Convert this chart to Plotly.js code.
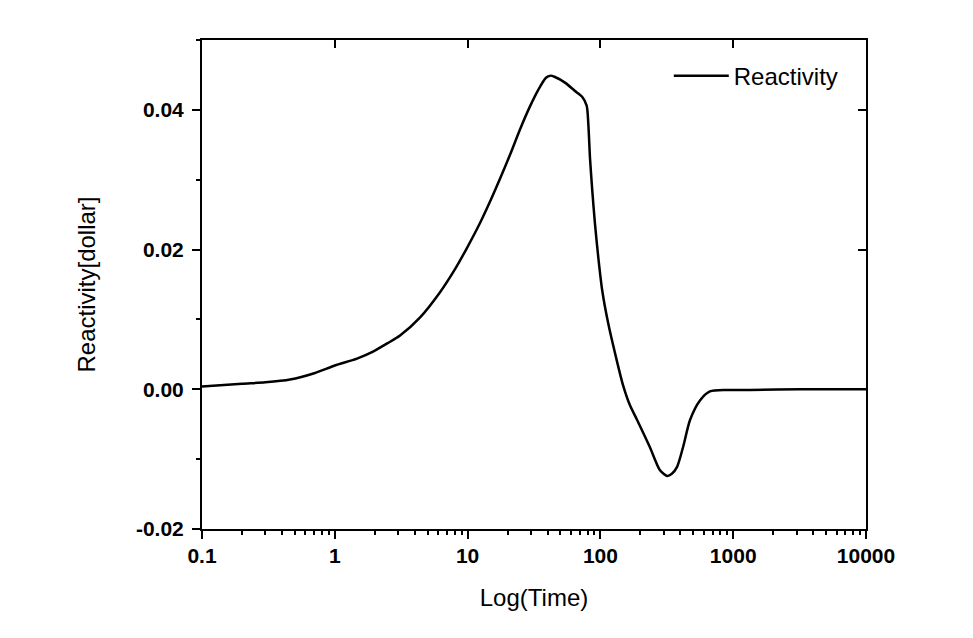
<!DOCTYPE html>
<html>
<head>
<meta charset="utf-8">
<script src="https://cdn.plot.ly/plotly-3.0.1.min.js"></script>
<style>html,body{margin:0;padding:0;background:#fff;}#chart{width:973px;height:638px;}</style>
</head>
<body>
<div id="chart"></div>
<script>
// Time values (log-scaled x axis)
const timeValues = [0.1, 0.2, 0.3, 0.46, 0.7, 1, 1.47, 1.94, 2.5, 3.1, 4.39, 6.2, 8.04, 10, 12.4, 14.7, 17.5, 20.9, 24.8, 29.5, 33.9, 38.9, 42, 45.5, 54.1, 64.4, 72.6, 78.8, 81.1, 83.5, 86.9, 91.0, 96.4, 103.3, 114.6, 131, 148, 167, 189, 236, 281, 318, 345, 378, 419, 473, 562, 668, 898, 1339, 3186, 10000];
// Reactivity in dollars
const reactivityValues = [0.0004, 0.0008, 0.0010, 0.0014, 0.0023, 0.0034, 0.0044, 0.0054, 0.0066, 0.0077, 0.0103, 0.0139, 0.0172, 0.0204, 0.0238, 0.0268, 0.0301, 0.0336, 0.0372, 0.0405, 0.0428, 0.0446, 0.0449, 0.0447, 0.0439, 0.0427, 0.0419, 0.0406, 0.0380, 0.0331, 0.0284, 0.0237, 0.0189, 0.0141, 0.0094, 0.0046, 0.0006, -0.0023, -0.0044, -0.0083, -0.0116, -0.0124, -0.0121, -0.0111, -0.0083, -0.0044, -0.0016, -0.0003, -0.0001, -0.0001, 0.0, 0.0];
const seriesName = 'Reactivity';
const yTickVals = [-0.02, 0.0, 0.02, 0.04];
const yTickText = ['-0.02', '0.00', '0.02', '0.04'];
const xTickVals = [0.1, 1, 10, 100, 1000, 10000];
const xTickText = ['0.1', '1', '10', '100', '1000', '10000'];
const yMirrorText = ['', '', '', ''];
const xMirrorText = ['', '', '', '', '', ''];

const tickFont = {family: 'Liberation Sans, Arial, sans-serif', size: 21, color: '#000', weight: 'bold'};
const titleFont = {family: 'Liberation Sans, Arial, sans-serif', size: 24, color: '#000'};

const trace = {
  x: timeValues, y: reactivityValues, type: 'scatter', mode: 'lines',
  name: seriesName, line: {color: '#000', width: 2.5, shape: 'spline', smoothing: 0.7}, xaxis: 'x', yaxis: 'y'
};
// same data on the mirrored frame axes so their inside ticks get drawn (invisible lines)
const frameTraceTop = {
  x: timeValues, y: reactivityValues, type: 'scatter', mode: 'lines',
  line: {color: 'rgba(0,0,0,0)', width: 1}, showlegend: false, hoverinfo: 'skip',
  xaxis: 'x2', yaxis: 'y'
};
const frameTraceRight = {
  x: timeValues, y: reactivityValues, type: 'scatter', mode: 'lines',
  line: {color: 'rgba(0,0,0,0)', width: 1}, showlegend: false, hoverinfo: 'skip',
  xaxis: 'x', yaxis: 'y2'
};

const layout = {
  width: 973, height: 638,
  paper_bgcolor: '#fff', plot_bgcolor: '#fff',
  margin: {l: 202, r: 107, t: 40, b: 109},
  showlegend: true,
  legend: {x: 0.703, y: 0.972, xanchor: 'left', yanchor: 'top', bgcolor: 'rgba(0,0,0,0)',
           font: titleFont, borderwidth: 0, itemwidth: 55},
  xaxis: {
    type: 'log', range: [-1, 4], tickmode: 'array', tickvals: xTickVals, ticktext: xTickText,
    ticks: 'outside', ticklen: 8, tickwidth: 2, tickcolor: '#000',
    minor: {dtick: 'D1', ticks: 'outside', ticklen: 4, tickwidth: 2, tickcolor: '#000', showgrid: false},
    showline: true, linewidth: 2, linecolor: '#000', mirror: true,
    showgrid: false, zeroline: false, tickfont: tickFont, ticklabelstandoff: -1,
    title: {text: 'Log(Time)', font: titleFont, standoff: 23}
  },
  yaxis: {
    range: [-0.02, 0.05], tickmode: 'array', tickvals: yTickVals, ticktext: yTickText,
    ticks: 'outside', ticklen: 8, tickwidth: 2, tickcolor: '#000',
    minor: {tickmode: 'linear', tick0: 0, dtick: 0.01, ticks: 'outside', ticklen: 4, tickwidth: 2, tickcolor: '#000', showgrid: false},
    showline: true, linewidth: 2, linecolor: '#000', mirror: true,
    showgrid: false, zeroline: false, tickfont: tickFont, ticklabelstandoff: 4,
    title: {text: 'Reactivity[dollar]', font: titleFont, standoff: 34}
  },
  xaxis2: {
    type: 'log', range: [-1, 4], overlaying: 'x', side: 'top', anchor: 'y',
    tickmode: 'array', tickvals: xTickVals, ticktext: xMirrorText,
    ticks: 'inside', ticklen: 8, tickwidth: 2, tickcolor: '#000',
    showticklabels: true, showgrid: false, zeroline: false
  },
  yaxis2: {
    range: [-0.02, 0.05], overlaying: 'y', side: 'right', anchor: 'x',
    tickmode: 'array', tickvals: yTickVals, ticktext: yMirrorText,
    ticks: 'inside', ticklen: 8, tickwidth: 2, tickcolor: '#000',
    showticklabels: true, showgrid: false, zeroline: false
  }
};

Plotly.newPlot('chart', [trace, frameTraceTop, frameTraceRight], layout, {displayModeBar: false, staticPlot: true});
</script>
</body>
</html>
